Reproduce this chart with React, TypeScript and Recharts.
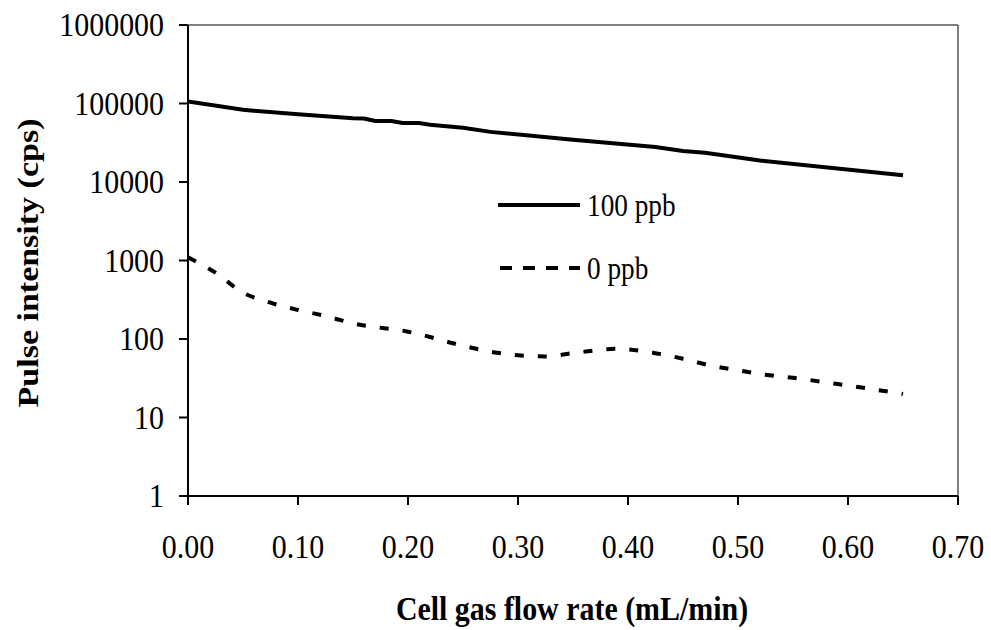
import React from "react";
import { LineChart, Line, XAxis, YAxis, ReferenceLine, Label } from "recharts";

const FONT = "'Liberation Serif', 'Times New Roman', serif";
const SQUASH = 0.88; // the original chart is a bit narrow horizontally

// 100 ppb standard
const flow100 = [0, 0.05, 0.1, 0.15, 0.16, 0.17, 0.185, 0.195, 0.21, 0.22, 0.25, 0.275, 0.35, 0.425, 0.45, 0.47, 0.52, 0.65];
const cps100 = [106000, 83000, 73000, 65000, 64500, 60000, 60000, 56500, 56500, 53500, 49000, 43500, 34500, 28000, 24800, 23600, 18800, 12200];

// blank (0 ppb)
const flow0 = [0, 0.025, 0.05, 0.075, 0.1, 0.125, 0.15, 0.2, 0.25, 0.275, 0.3, 0.325, 0.35, 0.39, 0.425, 0.45, 0.475, 0.5, 0.525, 0.55, 0.6, 0.65];
const cps0 = [1100, 700, 390, 290, 234, 196, 158, 124, 82, 69, 62, 60, 66, 75, 66, 56, 46, 40, 35, 32, 25.5, 20];

const xTicks = [0, 0.1, 0.2, 0.3, 0.4, 0.5, 0.6, 0.7];
const yTicks = [1, 10, 100, 1000, 10000, 100000, 1000000];

const data100 = flow100.map((x, i) => ({ x, y: cps100[i] }));
const data0 = flow0.map((x, i) => ({ x, y: cps0[i] }));

function XTick({ x, y, payload }: any) {
  return (
    <text
      transform={`translate(${x},${y}) scale(${SQUASH},1)`}
      textAnchor="middle"
      fontSize={34}
      fontFamily={FONT}
      fill="#000"
    >
      {payload.value.toFixed(2)}
    </text>
  );
}

function YTick({ x, y, payload }: any) {
  return (
    <text
      transform={`translate(${x},${y + 11}) scale(${SQUASH},1)`}
      textAnchor="end"
      fontSize={34}
      fontFamily={FONT}
      fill="#000"
    >
      {String(payload.value)}
    </text>
  );
}

function LegendBox() {
  return (
    <g>
      <line x1={498} y1={205} x2={580} y2={205} stroke="#000" strokeWidth={4} />
      <text transform={`translate(587,216) scale(${SQUASH},1)`} fontSize={31} fontFamily={FONT}>
        100 ppb
      </text>
      <line x1={500} y1={268} x2={580} y2={268} stroke="#000" strokeWidth={4} strokeDasharray="12 11" />
      <text transform={`translate(587,279) scale(${SQUASH},1)`} fontSize={31} fontFamily={FONT}>
        0 ppb
      </text>
    </g>
  );
}

export default function App() {
  return (
    <div style={{ position: "absolute", left: 0, top: 0, background: "#fff" }}>
      <LineChart width={991} height={630} margin={{ top: 25, right: 33, bottom: 0, left: 0 }}>
        <XAxis
          type="number"
          dataKey="x"
          domain={[0, 0.7]}
          ticks={xTicks}
          tick={<XTick />}
          tickSize={9}
          tickMargin={53}
          height={134}
          stroke="#000"
          strokeWidth={2}
          allowDataOverflow
        >
          <Label
            content={() => (
              <text
                transform={`translate(572,620) scale(${SQUASH},1)`}
                textAnchor="middle"
                fontSize={34}
                fontWeight="bold"
                fontFamily={FONT}
              >
                Cell gas flow rate (mL/min)
              </text>
            )}
          />
        </XAxis>
        <YAxis
          type="number"
          dataKey="y"
          scale="log"
          domain={[1, 1000000]}
          ticks={yTicks}
          tick={<YTick />}
          tickSize={9}
          tickMargin={15}
          width={188}
          stroke="#000"
          strokeWidth={2}
          allowDataOverflow
        >
          <Label
            content={() => (
              <g>
                <text
                  transform={`translate(28,263) scale(${SQUASH},1) rotate(-90)`}
                  textAnchor="middle"
                  dominantBaseline="central"
                  fontSize={34}
                  fontWeight="bold"
                  fontFamily={FONT}
                >
                  Pulse intensity (cps)
                </text>
                <LegendBox />
              </g>
            )}
          />
        </YAxis>
        <ReferenceLine y={1000000} stroke="#555" strokeWidth={1.5} />
        <ReferenceLine x={0.7} stroke="#555" strokeWidth={1.5} />
        <Line
          data={data100}
          dataKey="y"
          name="100 ppb"
          type="linear"
          stroke="#000"
          strokeWidth={4}
          dot={false}
          isAnimationActive={false}
        />
        <Line
          data={data0}
          dataKey="y"
          name="0 ppb"
          type="monotone"
          stroke="#000"
          strokeWidth={4}
          strokeDasharray="9 14"
          dot={false}
          isAnimationActive={false}
        />
      </LineChart>
    </div>
  );
}
